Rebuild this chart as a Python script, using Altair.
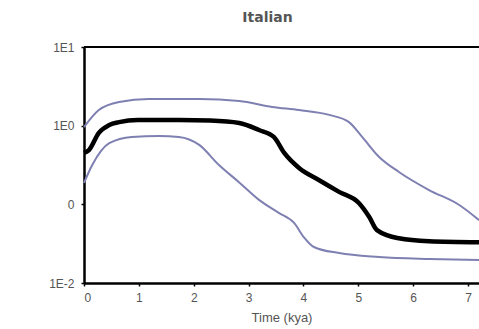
import altair as alt
import pandas as pd

# Median (black)
med_t = [0.0, 0.09, 0.27, 0.46, 0.64, 0.98, 1.73, 2.3, 2.83, 3.19, 3.46, 3.65, 3.92, 4.28, 4.65, 5.01, 5.2, 5.34, 5.74, 6.29, 7.2]
med_v = [0.45, 0.49, 0.81, 1.02, 1.11, 1.18, 1.18, 1.16, 1.08, 0.88, 0.72, 0.45, 0.29, 0.204, 0.144, 0.104, 0.069, 0.047, 0.037, 0.034, 0.033]

# Upper bound (blue)
up_t = [0.0, 0.27, 0.64, 1.18, 2.1, 2.83, 3.43, 3.92, 4.47, 4.83, 5.07, 5.38, 5.74, 6.29, 6.84, 7.2]
up_v = [0.96, 1.58, 2.0, 2.18, 2.18, 2.06, 1.73, 1.58, 1.37, 1.11, 0.72, 0.40, 0.258, 0.152, 0.098, 0.063]

# Lower bound (blue)
lo_t = [0.0, 0.15, 0.46, 0.87, 1.37, 1.73, 2.1, 2.46, 2.83, 3.19, 3.55, 3.83, 4.01, 4.19, 4.65, 5.38, 6.29, 7.2]
lo_v = [0.187, 0.316, 0.60, 0.72, 0.74, 0.72, 0.57, 0.316, 0.19, 0.114, 0.078, 0.058, 0.038, 0.0287, 0.024, 0.0214, 0.0202, 0.0196]

y_ticks = [0.01, 0.1, 1, 10]
x_ticks = [0, 1, 2, 3, 4, 5, 6, 7]

rows = []
for t, v in zip(up_t, up_v):
    rows.append({"t": t, "v": v, "s": "upper"})
for t, v in zip(lo_t, lo_v):
    rows.append({"t": t, "v": v, "s": "lower"})
band = pd.DataFrame(rows)
med = pd.DataFrame({"t": med_t, "v": med_v})

W, H = 395, 236

xenc = alt.X("t:Q", scale=alt.Scale(domain=[0, 7.2], nice=False, zero=False),
             axis=alt.Axis(values=x_ticks, title="Time (kya)", grid=False,
                           domainColor="black", domainWidth=2.5,
                           tickColor="black", tickSize=3, tickWidth=1.5,
                           labelFont="Liberation Sans", labelFontSize=12, labelColor="#555",
                           labelPadding=6, titleFont="Liberation Sans", titleFontSize=13,
                           titleFontWeight="normal", titleColor="#555", titlePadding=8))
yenc = alt.Y("v:Q", scale=alt.Scale(type="log", domain=[0.01, 10], nice=False),
             axis=alt.Axis(values=y_ticks, title=None, grid=False,
                           labelExpr="datum.value >= 5 ? '1E1' : datum.value >= 0.5 ? '1E0' : datum.value >= 0.05 ? '0' : '1E-2'",
                           domainColor="black", domainWidth=2.5,
                           tickColor="black", tickSize=3, tickWidth=1.5,
                           labelFont="Liberation Sans", labelFontSize=12, labelColor="#555",
                           labelPadding=7))

bands = alt.Chart(band).mark_line(color="#7f80b2", strokeWidth=2, interpolate="monotone").encode(
    x=xenc, y=yenc, detail="s:N")
median = alt.Chart(med).mark_line(color="black", strokeWidth=4.5, interpolate="monotone").encode(
    x=xenc, y=yenc)
topline = alt.Chart(med).mark_rule(color="black", strokeWidth=2).encode(
    x=alt.value(0), x2=alt.value(W), y=alt.value(0))

chart = alt.layer(bands, median, topline).properties(
    width=W, height=H,
    title=alt.Title("Italian", font="DejaVu Sans", fontSize=14, fontWeight="bold",
                    color="#555", dx=-14, offset=16),
    autosize=alt.AutoSizeParams(type="none"),
    padding={"left": 84, "top": 47, "right": 0, "bottom": 46},
).configure_view(stroke=None).configure(background="white")

chart.save("out.html", embed_options={"renderer": "svg", "actions": False})
